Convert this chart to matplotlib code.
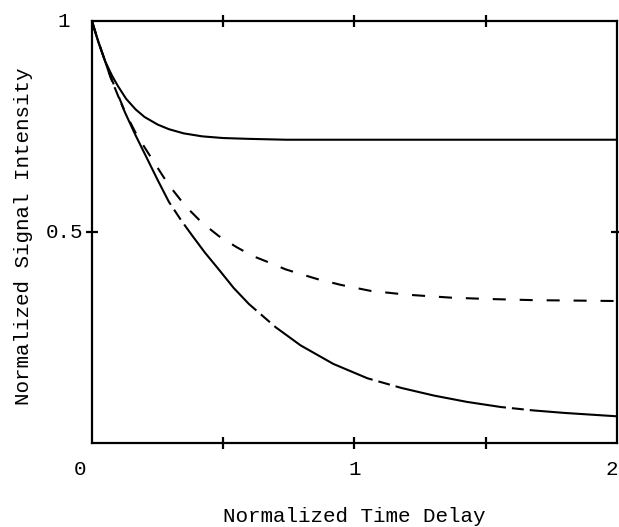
import matplotlib
matplotlib.use("Agg")
import matplotlib.pyplot as plt
from matplotlib.transforms import ScaledTranslation

plt.rcParams['font.family'] = ['Liberation Mono', 'DejaVu Sans Mono']
plt.rcParams['lines.scale_dashes'] = False

# curves (normalized time delay, normalized intensity)
top_x = [0, 0.01, 0.025, 0.05, 0.077, 0.1, 0.13, 0.166, 0.2, 0.25, 0.293, 0.35, 0.42,
         0.5, 0.6, 0.74, 0.9, 1.2, 1.6, 2.0]
top_y = [1, 0.978, 0.949, 0.905, 0.870, 0.845, 0.816, 0.791, 0.773, 0.755, 0.744, 0.734, 0.727,
         0.723, 0.721, 0.719, 0.719, 0.719, 0.719, 0.719]

mid_x = [0, 0.025, 0.05, 0.07, 0.1, 0.127, 0.17, 0.229, 0.29, 0.356, 0.42, 0.483, 0.55,
         0.611, 0.68, 0.738, 0.8, 0.859, 0.95, 1.062, 1.2, 1.368, 1.5, 1.686, 1.85, 2.0]
mid_y = [1, 0.95, 0.905, 0.870, 0.824, 0.783, 0.731, 0.673, 0.614, 0.562, 0.522, 0.491, 0.465,
         0.444, 0.427, 0.412, 0.400, 0.389, 0.375, 0.361, 0.352, 0.345, 0.342, 0.339, 0.338, 0.337]

low_x = [0, 0.025, 0.05, 0.07, 0.1, 0.127, 0.165, 0.204, 0.25, 0.293, 0.34, 0.382, 0.43,
         0.483, 0.54, 0.598, 0.7, 0.795, 0.92, 1.05, 1.18, 1.304, 1.43, 1.558, 1.68, 1.8, 1.9, 2.0]
low_y = [1, 0.95, 0.905, 0.868, 0.822, 0.782, 0.731, 0.682, 0.624, 0.572, 0.528, 0.492, 0.452,
         0.412, 0.368, 0.330, 0.275, 0.232, 0.188, 0.154, 0.131, 0.113, 0.098, 0.086, 0.078, 0.072, 0.068, 0.064]

xtick_pos = [0, 1, 2]
xtick_lab = ['0', '1', '2']
ytick_pos = [0.5, 1]
ytick_lab = ['0.5', '1']
mark_x = [0.5, 1, 1.5]
mark_y = [0.5]

fig = plt.figure(figsize=(6.19, 5.27), dpi=100)
ax = fig.add_axes([0.1486, 0.1588, 0.8477, 0.8012])

lw = 1.5
ax.plot(top_x, top_y, color='black', lw=lw)
ax.plot(mid_x, mid_y, color='black', lw=lw, linestyle=(0, (9.4, 10)))
ax.plot(low_x, low_y, color='black', lw=lw, linestyle=(35, (81, 4.3, 8.6, 4.3)))

ax.set_xlim(0, 2)
ax.set_ylim(0, 1)
for s in ax.spines.values():
    s.set_linewidth(1.6)

# labels on majors (no mark), marks on minors
ax.set_xticks(xtick_pos)
ax.set_xticklabels(xtick_lab)
ax.set_yticks(ytick_pos)
ax.set_yticklabels(ytick_lab)
ax.set_xticks(mark_x, minor=True)
ax.set_yticks(mark_y, minor=True)
ax.xaxis.remove_overlapping_locs = False
ax.yaxis.remove_overlapping_locs = False
ax.tick_params(which='major', length=0, labelsize=15)
ax.tick_params(axis='x', which='major', pad=12)
ax.tick_params(axis='y', which='major', pad=20)
ax.tick_params(which='minor', direction='inout', length=8.5, width=1.6,
               top=True, right=True)
for lab in ax.get_yticklabels():
    lab.set_ha('center')
    lab.set_va('center')

xl = ax.get_xticklabels()
xl[0].set_transform(xl[0].get_transform() + ScaledTranslation(-12 / 100, 0, fig.dpi_scale_trans))
xl[2].set_transform(xl[2].get_transform() + ScaledTranslation(-5 / 100, 0, fig.dpi_scale_trans))

ax.set_xlabel('Normalized Time Delay', fontsize=15)
ax.set_ylabel('Normalized Signal Intensity', fontsize=15)
ax.xaxis.set_label_coords(0.5, -0.1745)
ax.xaxis.label.set_va('center')
ax.yaxis.set_label_coords(-0.131, 0.491)
ax.yaxis.label.set_va('center')

fig.savefig('out.png', dpi=100)
